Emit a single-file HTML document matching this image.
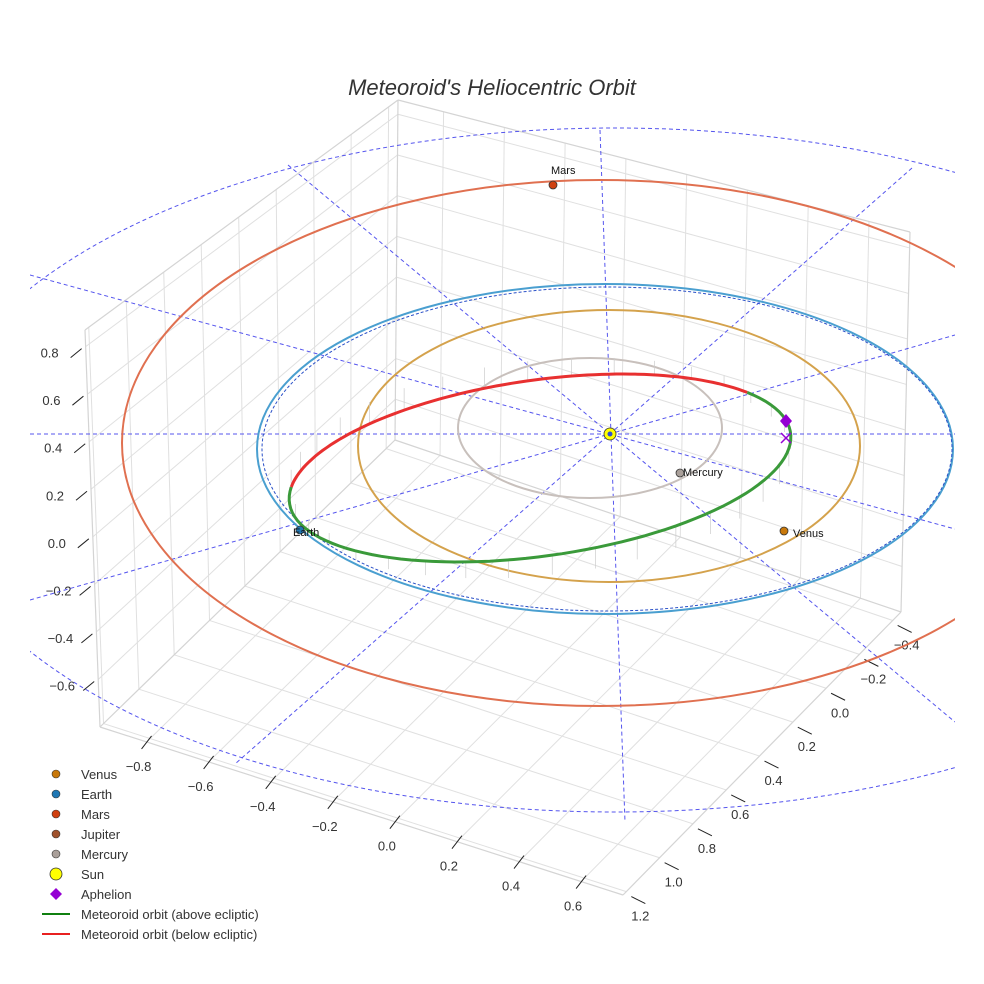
<!DOCTYPE html>
<html><head><meta charset="utf-8"><style>
body{margin:0;background:#fff}
svg{display:block;font-family:"Liberation Sans",sans-serif}
</style></head><body>
<svg id="c" width="984" height="984" viewBox="0 0 984 984">
<text x="492" y="95" text-anchor="middle" font-size="22" font-style="italic" fill="#333">Meteoroid's Heliocentric Orbit</text>
<g id="grid"></g>
<g id="ticks"></g>
<g id="guides"></g>
<g id="orbits"></g>
<g id="marks"></g>
<g id="legend"></g>
</svg>
<script>
const xTicks=[-0.8,-0.6,-0.4,-0.2,0.0,0.2,0.4,0.6];
const yTicks=[1.2,1.0,0.8,0.6,0.4,0.2,0.0,-0.2,-0.4];
const zTicks=[-0.6,-0.4,-0.2,0.0,0.2,0.4,0.6,0.8];
const planetNames=["Venus","Earth","Mars","Jupiter","Mercury"];
const planetColors=["#c8780a","#1f77b4","#d04010","#a0522d","#aaa09a"];
const legendNames=["Venus","Earth","Mars","Jupiter","Mercury","Sun","Aphelion","Meteoroid orbit (above ecliptic)","Meteoroid orbit (below ecliptic)"];
const NS="http://www.w3.org/2000/svg";
function mk(p,t,a){const e=document.createElementNS(NS,t);for(const k in a)e.setAttribute(k,a[k]);p.appendChild(e);return e;}
const L=[100,727],F=[623,895],R=[901,612],B=[395,440];
const Lt=[85,330],Bt=[398,100],Rt=[910,232];
const xmin=-0.95,xmax=0.735,ymax=1.22,ymin=-0.45,zmin=-0.8,zmax=0.87;
function lerp(a,b,t){return [a[0]+(b[0]-a[0])*t,a[1]+(b[1]-a[1])*t];}
function bil(p00,p10,p01,p11,u,v){return lerp(lerp(p00,p10,u),lerp(p01,p11,u),v);}
const xs=v=>(v-xmin)/(xmax-xmin), ys=v=>(ymax-v)/(ymax-ymin), zs=v=>(v-zmin)/(zmax-zmin);
const g=document.getElementById('grid');
const GC='#e0e0e0';
function line(p,a,b,st,w,extra){const e=mk(p,'line',Object.assign({x1:a[0],y1:a[1],x2:b[0],y2:b[1],stroke:st,'stroke-width':w},extra||{}));return e;}
xTicks.forEach(t=>{const u=xs(t);const a=bil(L,F,B,R,u,0),b=bil(L,F,B,R,u,1);const e=line(g,a,b,GC,1);
 const c=lerp(B,R,u),d=lerp(Bt,Rt,u);const e2=line(g,c,d,GC,1);});
yTicks.forEach(t=>{const v=ys(t);const a=bil(L,F,B,R,0,v),b=bil(L,F,B,R,1,v);const e=line(g,a,b,GC,1);
 const c=lerp(L,B,v),d=lerp(Lt,Bt,v);const e2=line(g,c,d,GC,1);});
zTicks.forEach(t=>{const w=zs(t);const a=lerp(L,Lt,w),b=lerp(B,Bt,w),c=lerp(R,Rt,w);const e=line(g,a,b,GC,1);const e2=line(g,b,c,GC,1);});
[[L,F],[F,R],[L,Lt],[B,Bt],[R,Rt],[Lt,Bt],[Bt,Rt],[L,B],[B,R]].forEach(p=>{const e=line(g,p[0],p[1],'#d4d4d4',1.2);});
const tk=document.getElementById('ticks');
function tlabel(x,y,s){const e=mk(tk,'text',{x:x,y:y,'font-size':13,fill:'#333','text-anchor':'middle'});e.textContent=s;return e;}
const fmt=v=>(v<0?'\u2212':'')+Math.abs(v).toFixed(1);
xTicks.forEach(t=>{const p=lerp(L,F,xs(t));const e=line(tk,[p[0]-5,p[1]+7],[p[0]+5,p[1]-6],'#222',1);const l=tlabel(p[0]-8,p[1]+29,fmt(t));});
yTicks.forEach(t=>{const p=lerp(F,R,ys(t));const e=line(tk,[p[0]+5,p[1]+5],[p[0]+19,p[1]+12],'#222',1);const l=tlabel(p[0]+14,p[1]+29,fmt(t));});
zTicks.forEach(t=>{const p=lerp(L,Lt,zs(t));const e=line(tk,[p[0]-15,p[1]+11],[p[0]-4,p[1]+2],'#222',1);const l=tlabel(p[0]-36,p[1]+11,fmt(t));});
const gd=document.getElementById('guides');
const dash={'stroke-dasharray':'4 3',fill:'none'};
const defs=mk(gd,'defs',{});
const cp=mk(defs,'clipPath',{id:'cl'});mk(cp,'rect',{x:30,y:0,width:925,height:984});
const gg=mk(gd,'g',{'clip-path':'url(#cl)'});
const big=mk(gg,'ellipse',Object.assign({cx:615,cy:470,rx:690,ry:342,stroke:'#5555ee','stroke-width':1},dash));
[[30,434,955,434],[600,130,625,822],[288,165,955,722],[912,168,235,764],[30,275,955,529],[30,600,955,335]].forEach(l=>{const e=mk(gg,'line',Object.assign({x1:l[0],y1:l[1],x2:l[2],y2:l[3],stroke:'#5555ee','stroke-width':1},dash));});
const ob0=document.getElementById('orbits');
const ob=mk(ob0,'g',{'clip-path':'url(#cl)'});
function ell(cx,cy,rx,ry,col,w,name,extra){const e=mk(ob,'ellipse',Object.assign({cx:cx,cy:cy,rx:rx,ry:ry,stroke:col,'stroke-width':w,fill:'none'},extra||{}));return e;}
ell(600,443,478,263,'#e07050',2,'mars-orbit');
ell(605,449,348,165,'#4a9fd0',2,'earth-orbit');
ell(607,449,345,162,'#2a50c8',1,'earth-orbit-dashed',{'stroke-dasharray':'3 2'});
ell(609,446,251,136,'#d4a24c',2,'venus-orbit');
ell(590,428,132,70,'#c8c0bc',2,'mercury-orbit');
const cx=540,cy=468,rx=253,ry=88,rot=-8*Math.PI/180;
function mp(t){const x=rx*Math.cos(t),y=ry*Math.sin(t);return [cx+x*Math.cos(rot)-y*Math.sin(rot),cy+x*Math.sin(rot)+y*Math.cos(rot)];}
function arc(t0,t1){let d='';for(let i=0;i<=80;i++){const p=mp(t0+(t1-t0)*i/80);d+=(i?'L':'M')+p[0].toFixed(1)+' '+p[1].toFixed(1);}return d;}
for(let i=0;i<36;i++){const t=i/36*2*Math.PI;const p=mp(t);const h=14*Math.sin(t+0.6);const e=mk(ob,'line',{x1:p[0],y1:p[1],x2:p[0],y2:p[1]+h+(h>0?8:-8),stroke:'#ccc','stroke-width':0.7});}
const gp=mk(ob,'path',{d:arc(-0.55,Math.PI+0.18),stroke:'#3a9a3a','stroke-width':3,fill:'none'});
const rp=mk(ob,'path',{d:arc(Math.PI+0.18,2*Math.PI-0.55),stroke:'#e83030','stroke-width':3,fill:'none'});
const mkg=document.getElementById('marks');
function dot(x,y,r,col,name,lab,lx,ly){const e=mk(mkg,'circle',{cx:x,cy:y,r:r,fill:col,stroke:'#333','stroke-width':0.8});if(lab){const t=mk(mkg,'text',{x:lx,y:ly,'font-size':11,fill:'#111'});t.textContent=lab;}}
dot(553,185,4,'#d04010','mars-marker','Mars',551,174);
dot(680,473,4,'#aaa09a','mercury-marker','Mercury',683,476);
dot(784,531,4,'#c8780a','venus-marker','Venus',793,537);
dot(300,530,4,'#1f77b4','earth-marker','Earth',293,536);
dot(610,434,6,'#ffff00','sun-marker');
const sx=mk(mkg,'circle',{cx:610,cy:434,r:2.5,fill:'#3050d0'});
const ap=mk(mkg,'path',{d:'M786 414 L792 421 L786 428 L780 421 Z',fill:'#9400d3'});
const ax=mk(mkg,'path',{d:'M781 433 L791 443 M791 433 L781 443',stroke:'#9400d3','stroke-width':1.5});
const lg=document.getElementById('legend');
legendNames.forEach((n,i)=>{const y=774+i*20;let m;
 if(i<5){m=mk(lg,'circle',{cx:56,cy:y,r:4,fill:planetColors[i],stroke:'#333','stroke-width':0.6});}
 else if(i==5){m=mk(lg,'circle',{cx:56,cy:y,r:6,fill:'#ffff00',stroke:'#333','stroke-width':0.8});}
 else if(i==6){m=mk(lg,'path',{d:`M56 ${y-6} L62 ${y} L56 ${y+6} L50 ${y} Z`,fill:'#9400d3'});}
 else {m=mk(lg,'line',{x1:42,y1:y,x2:70,y2:y,stroke:i==7?'#108010':'#e82020','stroke-width':2});}
 
 const t=mk(lg,'text',{x:81,y:y+5,'font-size':13,fill:'#333'});t.textContent=n;
 });
</script>
</body></html>
